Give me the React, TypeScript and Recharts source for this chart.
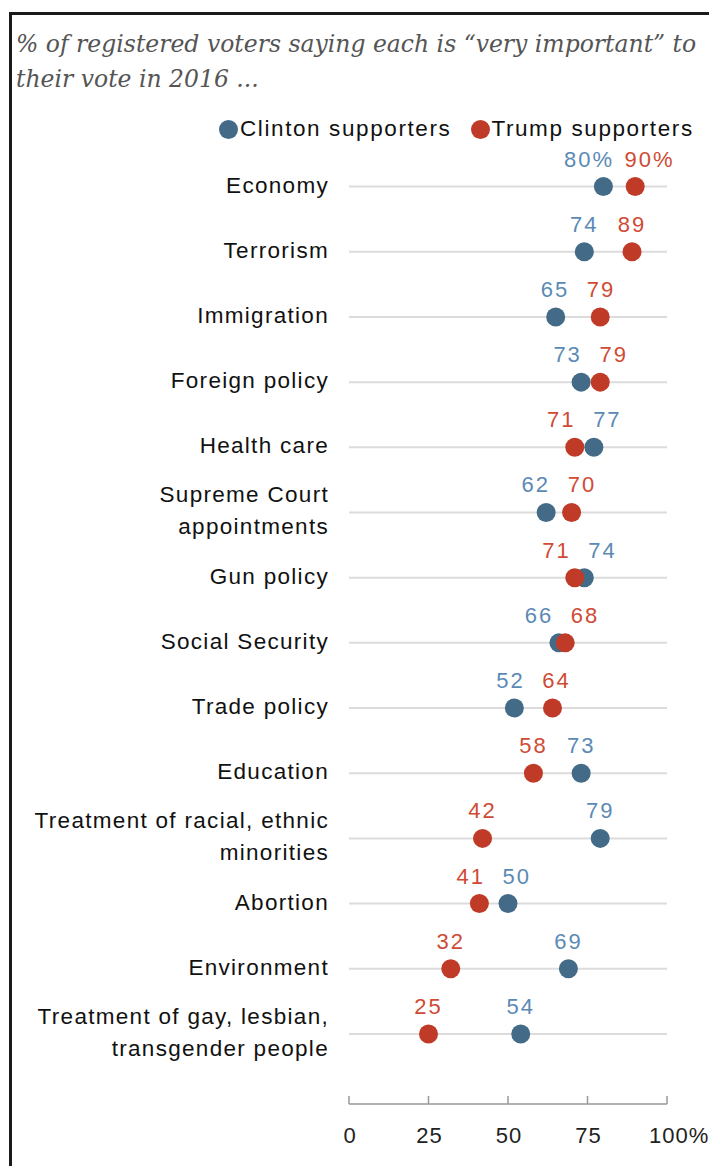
import React from "react";
import { ScatterChart, Scatter, XAxis, YAxis, ReferenceLine } from "recharts";

const CATEGORIES = [
  "Economy",
  "Terrorism",
  "Immigration",
  "Foreign policy",
  "Health care",
  "Supreme Court\nappointments",
  "Gun policy",
  "Social Security",
  "Trade policy",
  "Education",
  "Treatment of racial, ethnic\nminorities",
  "Abortion",
  "Environment",
  "Treatment of gay, lesbian,\ntransgender people",
];
const CLINTON = [80, 74, 65, 73, 77, 62, 74, 66, 52, 73, 79, 50, 69, 54];
const TRUMP = [90, 89, 79, 79, 71, 70, 71, 68, 64, 58, 42, 41, 32, 25];
const X_TICKS = [0, 25, 50, 75, 100];

const BLUE = "#436b87";
const RED = "#bf3b28";
const BLUE_TEXT = "#5b8ab5";
const RED_TEXT = "#cf4b36";
const FONT = "'Liberation Sans', Arial, sans-serif";

// labels get pushed apart when the two dots sit close together
const labelSpot = (own: number, other: number, i: number) => {
  const sep = i === 0 ? 19 : 14.5;
  if (Math.abs(own - other) >= sep) return own;
  const mid = (own + other) / 2;
  return own < other ? mid - sep / 2 : mid + sep / 2;
};

const clintonData = CLINTON.map((v, i) => ({ x: v, y: i }));
const trumpData = TRUMP.map((v, i) => ({ x: v, y: i }));
const labelData = CLINTON.flatMap((c, i) => [
  { x: labelSpot(c, TRUMP[i], i), y: i, text: i === 0 ? c + "%" : String(c), color: BLUE_TEXT },
  { x: labelSpot(TRUMP[i], c, i), y: i, text: i === 0 ? TRUMP[i] + "%" : String(TRUMP[i]), color: RED_TEXT },
]);

const Dot = (color: string) => (props: any) => (
  <circle cx={props.cx} cy={props.cy} r={9.5} fill={color} />
);

const ValueLabel = (props: any) => (
  <text
    x={props.cx}
    y={props.cy - 20}
    textAnchor="middle"
    fontFamily={FONT}
    fontSize={22}
    letterSpacing={2}
    fill={props.payload.color}
  >
    {props.payload.text}
  </text>
);

const CategoryTick = (props: any) => {
  const lines = CATEGORIES[props.payload.value].split("\n");
  const start = 6 - ((lines.length - 1) * 32) / 2;
  return (
    <text
      x={props.x - 20}
      y={props.y + start}
      textAnchor="end"
      fontFamily={FONT}
      fontSize={22.5}
      letterSpacing={1.3}
      fill="#111"
    >
      {lines.map((l, k) => (
        <tspan key={k} x={props.x - 20} dy={k === 0 ? 0 : 32}>
          {l}
        </tspan>
      ))}
    </text>
  );
};

const PercentTick = (props: any) => {
  const v = props.payload.value;
  return (
    <g>
      <line x1={props.x} x2={props.x} y1={props.y} y2={props.y - 8} stroke="#999" strokeWidth={1.5} />
      <text
        x={v === 100 ? props.x - 18 : props.x + 1}
        y={props.y + 39}
        textAnchor={v === 100 ? "start" : "middle"}
        fontFamily={FONT}
        fontSize={22}
        letterSpacing={1}
        fill="#222"
      >
        {v === 100 ? "100%" : v}
      </text>
    </g>
  );
};

export default function App() {
  return (
    <div style={{ position: "absolute", left: 0, top: 0, width: 709, height: 1166, overflow: "hidden", background: "#fff" }}>
      <div style={{ position: "absolute", left: 9, top: 12, width: 760, height: 1200, border: "3px solid #1a1a1a" }} />
      <div
        style={{
          position: "absolute",
          left: 16,
          top: 27,
          width: 700,
          fontFamily: "'DejaVu Serif', serif",
          fontStyle: "italic",
          fontSize: 23.5,
          lineHeight: "35px",
          color: "#555",
          whiteSpace: "nowrap",
        }}
      >
        % of registered voters saying each is “very important” to
        <br />
        their vote in 2016 ...
      </div>
      <div
        style={{
          position: "absolute",
          left: 219,
          top: 116,
          fontFamily: FONT,
          fontSize: 22.5,
          letterSpacing: 1.6,
          color: "#111",
          display: "flex",
          alignItems: "center",
        }}
      >
        <span style={{ width: 19, height: 19, borderRadius: 10, background: BLUE, display: "inline-block", marginRight: 2 }} />
        <span>Clinton supporters</span>
        <span style={{ width: 19, height: 19, borderRadius: 10, background: RED, display: "inline-block", marginLeft: 20, marginRight: 1 }} />
        <span>Trump supporters</span>
      </div>
      <div style={{ position: "absolute", left: 0, top: 0 }}>
        <ScatterChart width={709} height={1166} margin={{ top: 154, right: 42, bottom: 0, left: 0 }}>
          <XAxis
            type="number"
            dataKey="x"
            domain={[0, 100]}
            ticks={X_TICKS}
            axisLine={{ stroke: "#999", strokeWidth: 1.5 }}
            tickLine={false}
            tickSize={0}
            tickMargin={0}
            tick={<PercentTick />}
            height={62}
          />
          <YAxis
            type="number"
            dataKey="y"
            reversed
            domain={[-0.5, 14.075]}
            ticks={CATEGORIES.map((_, i) => i)}
            axisLine={false}
            tickLine={false}
            tickSize={0}
            tickMargin={0}
            tick={<CategoryTick />}
            width={349}
            interval={0}
          />
          {CATEGORIES.map((_, i) => (
            <ReferenceLine key={i} y={i} stroke="#dcdcdc" strokeWidth={2} />
          ))}
          <Scatter data={clintonData} shape={Dot(BLUE)} isAnimationActive={false} />
          <Scatter data={trumpData} shape={Dot(RED)} isAnimationActive={false} />
          <Scatter data={labelData} shape={<ValueLabel />} isAnimationActive={false} />
        </ScatterChart>
      </div>
    </div>
  );
}
